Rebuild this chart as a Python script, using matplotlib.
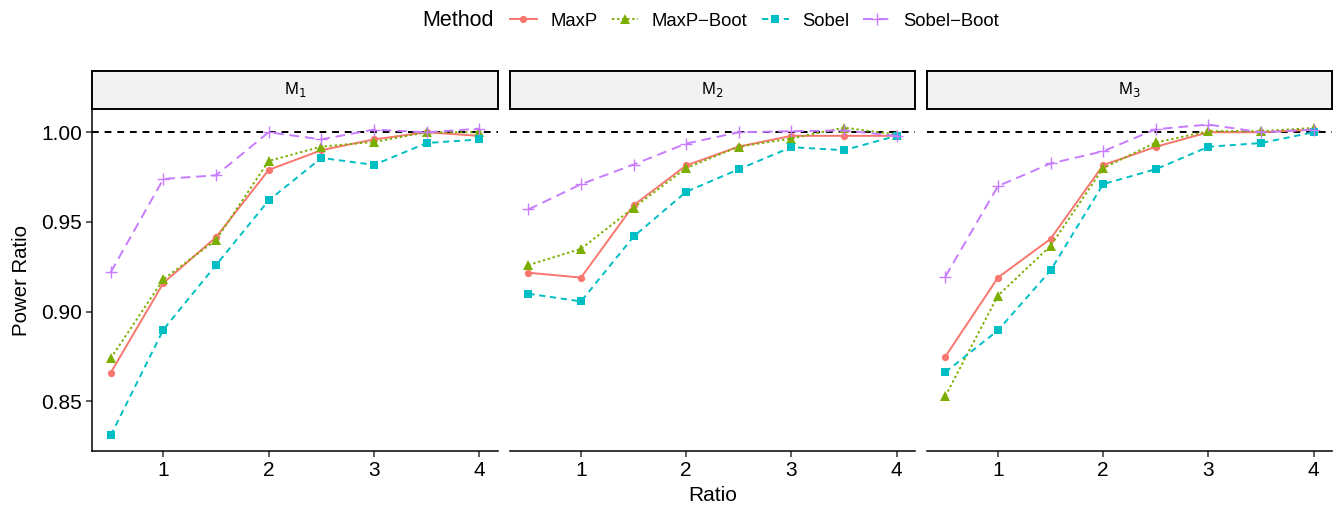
import matplotlib
matplotlib.use("Agg")
import matplotlib.pyplot as plt
from matplotlib.lines import Line2D

plt.rcParams['font.family'] = ['Liberation Sans', 'DejaVu Sans']

ratio = [0.5, 1, 1.5, 2, 2.5, 3, 3.5, 4]
panels = ["M$_1$", "M$_2$", "M$_3$"]
methods = ["MaxP", "MaxP\u2212Boot", "Sobel", "Sobel\u2212Boot"]

# Power ratio values per panel, per method
m1_maxp      = [0.866, 0.916, 0.9415, 0.979, 0.990, 0.996, 1.000, 0.998]
m1_maxp_boot = [0.874, 0.918, 0.940, 0.984, 0.992, 0.9946, 1.000, 1.000]
m1_sobel     = [0.831, 0.890, 0.926, 0.962, 0.9857, 0.9818, 0.994, 0.996]
m1_sobel_boot= [0.922, 0.974, 0.976, 1.000, 0.996, 1.0015, 1.000, 1.002]

m2_maxp      = [0.9217, 0.919, 0.9593, 0.9815, 0.992, 0.998, 0.998, 0.998]
m2_maxp_boot = [0.926, 0.935, 0.958, 0.980, 0.992, 0.9965, 1.0026, 0.9987]
m2_sobel     = [0.910, 0.9057, 0.9419, 0.9668, 0.9794, 0.9917, 0.990, 0.998]
m2_sobel_boot= [0.957, 0.971, 0.982, 0.9937, 1.000, 1.0006, 1.001, 0.998]

m3_maxp      = [0.875, 0.919, 0.9406, 0.9817, 0.9919, 1.000, 1.000, 1.0015]
m3_maxp_boot = [0.853, 0.909, 0.9367, 0.980, 0.9943, 1.0006, 1.0006, 1.0024]
m3_sobel     = [0.8663, 0.8896, 0.923, 0.9711, 0.9794, 0.9919, 0.994, 1.000]
m3_sobel_boot= [0.9196, 0.970, 0.9826, 0.9894, 1.0017, 1.0043, 1.000, 1.0015]

data = [
    [m1_maxp, m1_maxp_boot, m1_sobel, m1_sobel_boot],
    [m2_maxp, m2_maxp_boot, m2_sobel, m2_sobel_boot],
    [m3_maxp, m3_maxp_boot, m3_sobel, m3_sobel_boot],
]

y_ticks = [0.85, 0.90, 0.95, 1.00]
x_ticks = [1, 2, 3, 4]

colors = ["#F8766D", "#7CAE00", "#00BFC4", "#C77CFF"]
markers = ["o", "^", "s", "+"]
msizes = [5.2, 6.5, 5.5, 9]
styles = [
    dict(linestyle="-"),
    dict(linestyle=(0, (1.2, 1.4))),
    dict(linestyle=(0, (3.2, 2.4))),
    dict(linestyle=(0, (5.0, 3.0))),
]

W, H = 1336, 508
fig = plt.figure(figsize=(W / 100, H / 100), dpi=100)

panel_x = [(92.3, 497.7), (510, 915), (927, 1332)]
ptop, pbot = 109, 451
stop, sbot = 71, 108.5

all_vals = [v for p in data for s in p for v in s]
ymin, ymax = min(all_vals), max(all_vals)
yr = ymax - ymin
ylim = (ymin - 0.05 * yr, ymax + 0.05 * yr)
xr = max(ratio) - min(ratio)
xlim = (min(ratio) - 0.05 * xr, max(ratio) + 0.05 * xr)

lw = 1.4
for i, (x0, x1) in enumerate(panel_x):
    ax = fig.add_axes([x0 / W, 1 - pbot / H, (x1 - x0) / W, (pbot - ptop) / H])
    ax.axhline(1.0, color="black", lw=1.4, linestyle=(0, (3.5, 3.0)), zorder=1)
    for j in range(4):
        ax.plot(ratio, data[i][j], color=colors[j], lw=lw, marker=markers[j],
                ms=msizes[j], mew=1.0 if markers[j] == "+" else 0,
                mfc=colors[j], mec=colors[j], zorder=3, **styles[j])
    ax.set_xlim(*xlim)
    ax.set_ylim(*ylim)
    ax.set_xticks(x_ticks)
    ax.set_xticklabels([str(t) for t in x_ticks], fontsize=15)
    for s in ["top", "right"]:
        ax.spines[s].set_visible(False)
    ax.spines["bottom"].set_linewidth(1.1)
    ax.spines["left"].set_linewidth(1.1)
    ax.tick_params(axis="both", length=4, width=1.1, color="#333333", labelcolor="black", pad=3.5)
    if i == 0:
        ax.set_yticks(y_ticks)
        ax.set_yticklabels([f"{t:.2f}" for t in y_ticks], fontsize=15)
        ax.set_ylabel("Power Ratio", fontsize=14.7, labelpad=7)
    else:
        ax.spines["left"].set_visible(False)
        ax.set_yticks([])
    if i == 1:
        ax.set_xlabel("Ratio", fontsize=15, labelpad=4)
    # strip
    sax = fig.add_axes([x0 / W, 1 - sbot / H, (x1 - x0) / W, (sbot - stop) / H])
    sax.set_xlim(0, 1)
    sax.set_ylim(0, 1)
    sax.set_facecolor("#F2F2F2")
    sax.set_xticks([])
    sax.set_yticks([])
    for s in sax.spines.values():
        s.set_linewidth(1.4)
        s.set_color("black")
    sax.text(0.5, 0.5, panels[i], ha="center", va="center", fontsize=12)

# legend
fig.text(422 / W, 1 - 21 / H, "Method", ha="left", va="center", fontsize=15.5)
handles = [Line2D([0], [0], color=colors[j], lw=lw, marker=markers[j], ms=msizes[j],
                  mew=1.0 if markers[j] == "+" else 0, mfc=colors[j], mec=colors[j],
                  **styles[j]) for j in range(4)]
fig.legend(handles, methods, loc="center left", bbox_to_anchor=(510 / W, 1 - 21 / H),
           ncol=4, frameon=False, fontsize=13.3, handlelength=1.45, handletextpad=0.72,
           columnspacing=0.78, borderaxespad=0, borderpad=0)

fig.savefig("out.png", dpi=100)
